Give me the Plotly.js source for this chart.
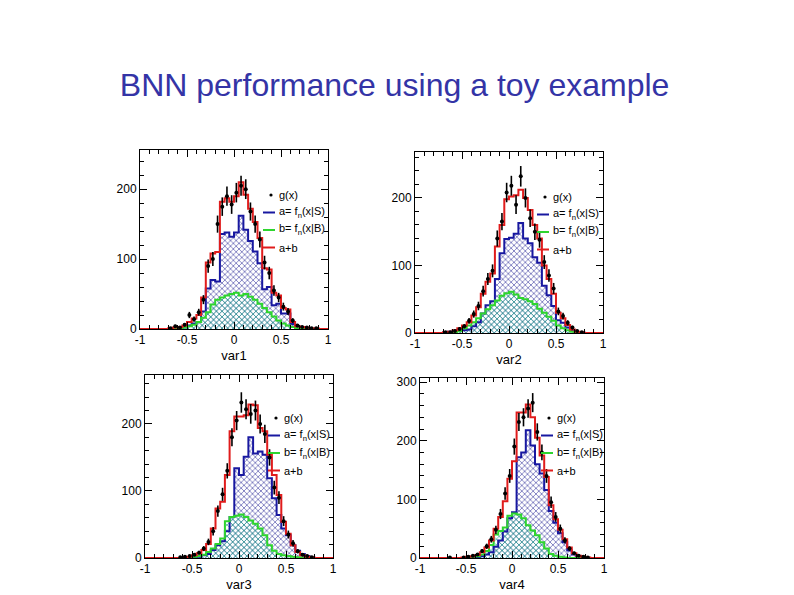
<!DOCTYPE html>
<html>
<head>
<meta charset="utf-8">
<script src="https://cdn.plot.ly/plotly-3.0.1.min.js"></script>
<style>
  html, body { margin: 0; padding: 0; background: #ffffff; }
  #chart { width: 794px; height: 595px; }
</style>
</head>
<body>
<div id="chart"></div>
<script>
// Common binning of the four histograms: 40 bins on [-1, 1]
const nBins = 40;
const xLow = -1;
const xHigh = 1;

const varNames = ['var1', 'var2', 'var3', 'var4'];
const legendLabels = ['g(x)', 'a= f<sub>n</sub>(x|S)', 'b= f<sub>n</sub>(x|B)', 'a+b'];
const xTickVals = [-1, -0.5, 0, 0.5, 1];
const xTickText = ['-1', '-0.5', '0', '0.5', '1'];

// var1: signal a, background b, a+b, and the data g(x)
const sig1 = [0,0,0,0,0,0,0,0,1,2, 5,8,10,25,58,70,68,136,138,132, 138,162,142,126,111,94,57,60,34,36, 22,22,7,3,2,1,0,0,0,0];
const bkg1 = [0,0,0,0,0,0,0,0,1,2, 4,6,10,16,24,35,42,45,48,50, 52,48,50,46,42,36,30,24,18,12, 8,5,3,1,0,0,0,0,0,0];
const tot1 = [0,0,0,0,0,0,1,2,3,5, 10,15,20,45,95,108,110,182,187,182, 190,210,192,172,153,130,87,85,52,48, 30,28,10,4,3,2,1,1,0,0];
const dat1 = [0,0,0,0,0,0,1,4,2,6, 20,14,24,42,90,100,150,175,190,178, 195,205,200,168,150,128,95,80,55,45, 32,25,12,5,3,2,1,1,0,0];

// var2
const sig2 = [0,0,0,0,0,0,1,2,3,4, 4,5,10,16,29,41,47,80,118,139, 141,147,163,140,133,112,104,70,56,40, 19,15,8,3,1,1,0,0,0,0];
const bkg2 = [0,0,0,0,0,0,0,0,1,3, 7,11,16,22,29,35,41,48,55,59, 61,57,52,50,47,43,36,30,24,18, 11,7,4,2,1,0,0,0,0,0];
const tot2 = [0,0,0,0,0,0,1,2,4,7, 11,16,26,38,58,76,88,128,160,198, 202,204,212,200,182,160,140,100,80,58, 30,22,12,5,2,1,0,0,0,0];
const dat2 = [0,0,0,0,0,0,1,1,3,6, 10,18,28,40,62,80,92,140,165,208, 218,190,232,200,170,150,138,105,85,66, 32,25,15,8,3,1,0,0,0,0];

// var3
const sig3 = [0,0,0,0,0,0,0,0,0,1, 1,2,4,6,12,19,25,40,61,134, 124,151,180,156,159,154,119,89,64,44, 34,19,11,6,3,1,0,0,0,0];
const bkg3 = [0,0,0,0,0,0,0,0,0,1, 2,3,5,9,14,21,29,55,61,63, 65,61,56,51,44,34,19,11,6,4, 3,2,1,0,0,0,0,0,0,0];
const tot3 = [0,0,0,0,0,0,0,0,1,2, 4,7,12,21,44,74,84,124,189,211, 211,213,229,228,194,189,154,124,94,54, 36,19,9,4,2,1,0,0,0,0];
const dat3 = [0,0,0,0,0,0,0,1,2,3, 5,8,14,24,40,70,95,130,180,205, 232,222,215,220,200,185,150,105,90,55, 35,22,10,5,3,1,0,0,0,0];

// var4
const sig4 = [0,0,0,0,0,0,0,0,0,0, 0,0,1,3,6,10,19,30,45,68, 78,172,180,218,192,160,144,116,80,60, 42,27,13,6,3,1,0,0,0,0];
const bkg4 = [0,0,0,0,0,0,0,0,0,0, 1,2,3,6,12,22,40,46,52,72, 76,74,68,56,47,39,27,16,7,4, 2,1,0,0,0,0,0,0,0,0];
const tot4 = [0,0,0,0,0,0,0,0,0,1, 2,3,5,10,18,30,50,70,97,135, 165,248,248,262,240,205,175,138,90,66, 48,32,18,8,4,2,1,0,0,0];
const dat4 = [0,0,0,0,0,0,1,0,0,1, 2,4,6,12,20,32,48,75,110,140, 190,232,240,255,265,215,180,140,95,70, 50,30,16,8,4,2,1,0,0,0];

const panels = [
  { name: varNames[0], sig: sig1, bkg: bkg1, tot: tot1, dat: dat1 },
  { name: varNames[1], sig: sig2, bkg: bkg2, tot: tot2, dat: dat2 },
  { name: varNames[2], sig: sig3, bkg: bkg3, tot: tot3, dat: dat3 },
  { name: varNames[3], sig: sig4, bkg: bkg4, tot: tot4, dat: dat4 }
];

// ---- page geometry (pixels of the 794 x 595 page) ----
const W = 794, H = 595;
const frames = [
  { l: 140, r: 328, t: 150, b: 329, yMax: 256, keyL: 263, keyT: 195 },
  { l: 415, r: 603, t: 152, b: 333, yMax: 268, keyL: 537, keyT: 197 },
  { l: 145, r: 333, t: 375, b: 558, yMax: 273, keyL: 268, keyT: 418 },
  { l: 420, r: 604, t: 378, b: 558, yMax: 307, keyL: 541, keyT: 418 }
];
const keyStep = 17.5;   // px between legend rows

const FONT = 'Liberation Sans, Arial, Helvetica, sans-serif';
const C_SIG = '#1818a0', C_BKG = '#2ed52e', C_TOT = '#e01c1c';

const binW = (xHigh - xLow) / nBins;
const edges = Array.from({ length: nBins + 1 }, (_, i) => +(xLow + i * binW).toFixed(4));
const centers = edges.slice(0, -1).map(e => +(e + binW / 2).toFixed(4));
const stepY = v => v.concat([v[v.length - 1]]);

const traces = [];
const layout = {
  width: W, height: H,
  margin: { l: 0, r: 0, t: 0, b: 0 },
  paper_bgcolor: '#ffffff',
  plot_bgcolor: '#ffffff',
  showlegend: false,
  font: { family: FONT, size: 11, color: '#000' },
  title: {
    text: 'BNN performance using a toy example',
    x: 0.497, xanchor: 'center',
    y: 1 - 85 / H, yanchor: 'middle',
    font: { family: FONT, size: 32, color: '#3434a6' }
  },
  shapes: [],
  annotations: []
};

panels.forEach((p, i) => {
  const f = frames[i];
  const n = i === 0 ? '' : String(i + 1);
  const xa = 'x' + n, ya = 'y' + n;

  const stepLine = (vals, color) => ({
    type: 'scatter', mode: 'lines', x: edges, y: stepY(vals),
    xaxis: xa, yaxis: ya, hoverinfo: 'skip',
    line: { shape: 'hv', color: color, width: 2 }
  });
  const hatched = (vals, fg) => ({
    type: 'scatter', mode: 'lines', x: edges, y: stepY(vals),
    xaxis: xa, yaxis: ya, hoverinfo: 'skip',
    line: { shape: 'hv', width: 0 },
    fill: 'tozeroy',
    fillcolor: 'rgba(0,0,0,0)',
    fillpattern: { shape: 'x', fgcolor: fg, bgcolor: 'rgba(255,255,255,0)', size: 4, solidity: 0.3 }
  });

  traces.push(hatched(p.sig, '#4a4aa6'));
  traces.push(hatched(p.bkg, '#2aa890'));
  traces.push(stepLine(p.sig, C_SIG));
  traces.push(stepLine(p.bkg, C_BKG));
  traces.push(stepLine(p.tot, C_TOT));

  const px = [], py = [];
  p.dat.forEach((v, k) => { if (v > 0) { px.push(centers[k]); py.push(v); } });
  traces.push({
    type: 'scatter', mode: 'markers', x: px, y: py,
    xaxis: xa, yaxis: ya, hoverinfo: 'skip',
    marker: { color: '#000', size: 4 },
    error_y: { type: 'sqrt', visible: true, color: '#000', thickness: 1.6, width: 0 }
  });

  const axisCommon = {
    showline: true, linecolor: '#000', linewidth: 1, mirror: 'allticks',
    ticks: 'inside', ticklen: 7, tickwidth: 1, tickcolor: '#000',
    showgrid: false, zeroline: false, fixedrange: true,
    tickfont: { family: FONT, size: 12, color: '#000' }
  };
  layout['xaxis' + n] = Object.assign({}, axisCommon, {
    domain: [f.l / W, f.r / W], anchor: ya,
    range: [xLow, xHigh], tickmode: 'array', tickvals: xTickVals, ticktext: xTickText,
    minor: { tickmode: 'linear', tick0: -1, dtick: 0.1, ticks: 'inside', ticklen: 4, tickcolor: '#000', showgrid: false },
    title: { text: p.name, standoff: 4, font: { family: FONT, size: 13, color: '#000' } }
  });
  layout['yaxis' + n] = Object.assign({}, axisCommon, {
    domain: [1 - f.b / H, 1 - f.t / H], anchor: xa,
    range: [0, f.yMax], tick0: 0, dtick: 100,
    minor: { dtick: 20, ticks: 'inside', ticklen: 4, tickcolor: '#000', showgrid: false }
  });

  // legend block of the panel (page coordinates)
  const keyColors = ['#000', C_SIG, C_BKG, C_TOT];
  legendLabels.forEach((lab, r) => {
    const yy = 1 - (f.keyT + r * keyStep) / H;
    const x0 = f.keyL / W;
    if (r === 0) {
      layout.shapes.push({
        type: 'circle', xref: 'paper', yref: 'paper',
        xsizemode: 'pixel', ysizemode: 'pixel',
        xanchor: (f.keyL + 8) / W, yanchor: yy,
        x0: -1.6, x1: 1.6, y0: -1.6, y1: 1.6,
        fillcolor: '#000', line: { width: 0 }
      });
    } else {
      layout.shapes.push({
        type: 'line', xref: 'paper', yref: 'paper',
        x0: x0, x1: (f.keyL + 12) / W, y0: yy, y1: yy,
        line: { color: keyColors[r], width: 2 }
      });
    }
    layout.annotations.push({
      xref: 'paper', yref: 'paper',
      x: (f.keyL + 15) / W, y: yy, xanchor: 'left', yanchor: 'middle',
      width: 62, height: 15, align: 'left', valign: 'middle',
      borderpad: 0,
      text: lab, showarrow: false,
      font: { family: FONT, size: 11, color: '#000' }
    });
  });
});

Plotly.newPlot('chart', traces, layout, { displayModeBar: false });
</script>
</body>
</html>
